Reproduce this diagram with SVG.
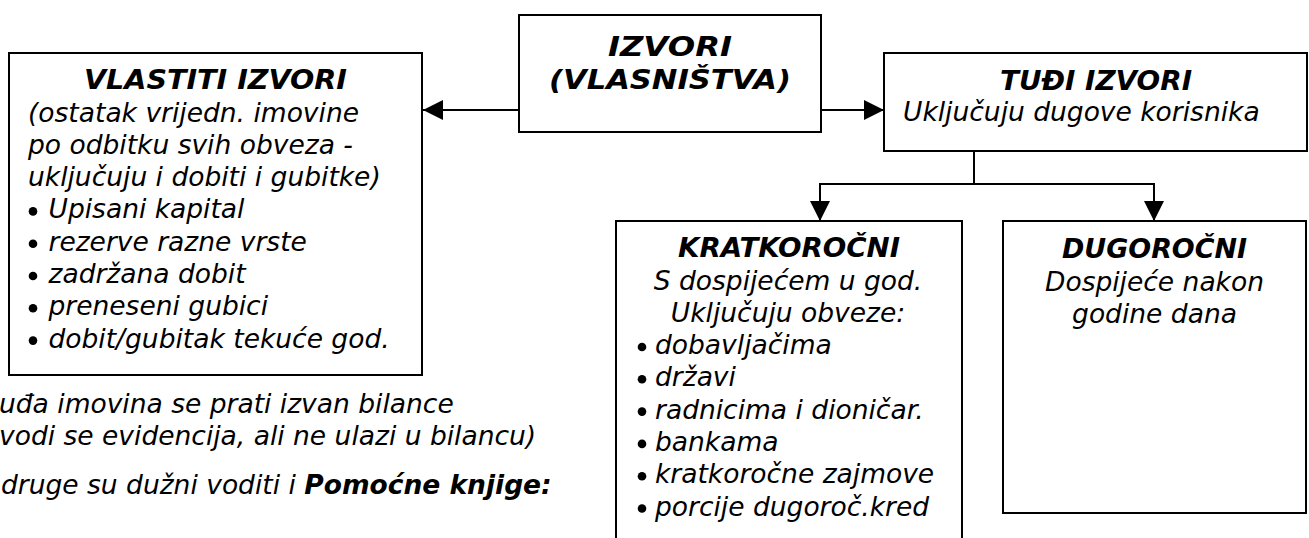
<svg xmlns="http://www.w3.org/2000/svg" width="1309" height="538" viewBox="0 0 1309 538">
<style>
.box{fill:#fff;stroke:#000;stroke-width:2}
text{font-family:"DejaVu Sans","Verdana",sans-serif;font-size:26.5px;font-style:italic;fill:#000}
.t{font-weight:bold;text-anchor:middle;font-size:27px}
.c{text-anchor:middle}
.dot{fill:#000}
.con{fill:none;stroke:#000;stroke-width:2}
</style>
<defs>
<marker id="ah" markerUnits="userSpaceOnUse" markerWidth="20" markerHeight="20" refX="20" refY="10" orient="auto">
<path d="M0,0 L20,10 L0,20 Z" fill="#000"/>
</marker>
<circle id="bul" r="4.3" class="dot"/>
</defs>
<rect width="1309" height="538" fill="#fff"/>

<g id="connectors">
<path class="con" d="M519,110 H423" marker-end="url(#ah)"/>
<path class="con" d="M821,110 H884" marker-end="url(#ah)"/>
<path class="con" d="M974,151 V184"/>
<path class="con" d="M974,184 H820 V221" marker-end="url(#ah)"/>
<path class="con" d="M974,184 H1154 V221" marker-end="url(#ah)"/>
</g>

<g id="izvori">
<rect class="box" x="519" y="15" width="302" height="117"/>
<text class="t" x="670" y="56" textLength="124" lengthAdjust="spacingAndGlyphs">IZVORI</text>
<text class="t" x="670" y="89" textLength="242" lengthAdjust="spacingAndGlyphs">(VLASNIŠTVA)</text>
</g>

<g id="vlastiti">
<rect class="box" x="9" y="53" width="413" height="322"/>
<text class="t" x="215.5" y="89" textLength="263" lengthAdjust="spacingAndGlyphs">VLASTITI IZVORI</text>
<text x="28" y="121.5">(ostatak vrijedn. imovine</text>
<text x="28" y="153.8">po odbitku svih obveza -</text>
<text x="28" y="186.1">uključuju i dobiti i gubitke)</text>
<use href="#bul" x="33" y="211.4"/><text x="48.5" y="218.4">Upisani kapital</text>
<use href="#bul" x="33" y="243.7"/><text x="48.5" y="250.7">rezerve razne vrste</text>
<use href="#bul" x="33" y="276"/><text x="48.5" y="283">zadržana dobit</text>
<use href="#bul" x="33" y="308.3"/><text x="48.5" y="315.3">preneseni gubici</text>
<use href="#bul" x="33" y="340.6"/><text x="48.5" y="347.6">dobit/gubitak tekuće god.</text>
</g>

<g id="tudji">
<rect class="box" x="884" y="53" width="423" height="98"/>
<text class="t" x="1096" y="90" textLength="192" lengthAdjust="spacingAndGlyphs">TUĐI IZVORI</text>
<text x="903" y="121">Uključuju dugove korisnika</text>
</g>

<g id="kratkorocni">
<rect class="box" x="616" y="221" width="346" height="330"/>
<text class="t" x="789" y="257" textLength="222" lengthAdjust="spacingAndGlyphs">KRATKOROČNI</text>
<text class="c" x="788" y="289.5">S dospijećem u god.</text>
<text class="c" x="788" y="321.5">Uključuju obveze:</text>
<use href="#bul" x="642" y="347"/><text x="655" y="354">dobavljačima</text>
<use href="#bul" x="642" y="379.3"/><text x="655" y="386.3">državi</text>
<use href="#bul" x="642" y="411.6"/><text x="655" y="418.6">radnicima i dioničar.</text>
<use href="#bul" x="642" y="443.9"/><text x="655" y="450.9">bankama</text>
<use href="#bul" x="642" y="476.2"/><text x="655" y="483.2">kratkoročne zajmove</text>
<use href="#bul" x="642" y="508.5"/><text x="655" y="515.5">porcije dugoroč.kred</text>
</g>

<g id="dugorocni">
<rect class="box" x="1003" y="221" width="303" height="292"/>
<text class="t" x="1154.5" y="258" textLength="185" lengthAdjust="spacingAndGlyphs">DUGOROČNI</text>
<text class="c" x="1154.5" y="290.5">Dospijeće nakon</text>
<text class="c" x="1154.5" y="322.5">godine dana</text>
</g>

<g id="note">
<text x="-1" y="413">uđa imovina se prati izvan bilance</text>
<text x="-1" y="445">vodi se evidencija, ali ne ulazi u bilancu)</text>
<text x="1" y="494">druge su dužni voditi i <tspan font-weight="bold">Pomoćne knjige:</tspan></text>
</g>
</svg>
